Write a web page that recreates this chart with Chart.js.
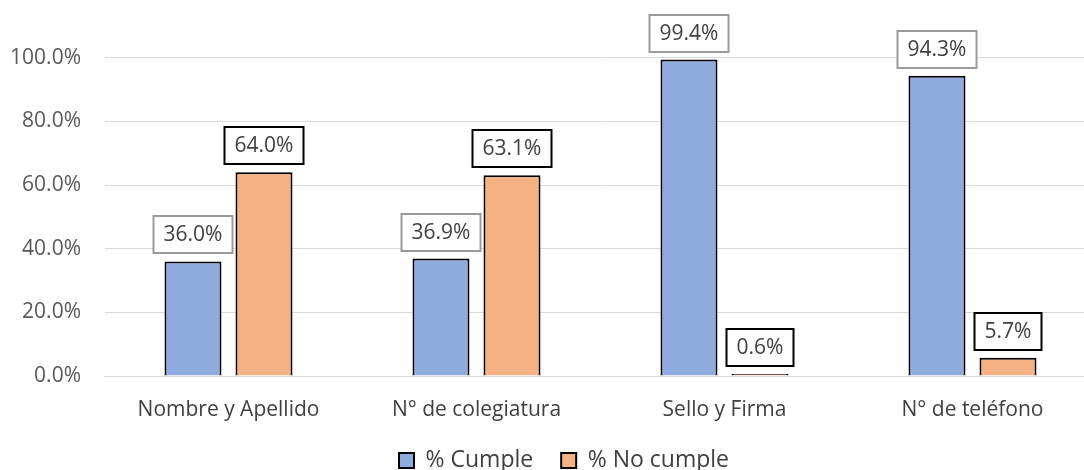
<!DOCTYPE html>
<html>
<head>
<meta charset="utf-8">
<script src="https://cdn.jsdelivr.net/npm/chart.js@4/dist/chart.umd.min.js"></script>
<style>
  html, body { margin: 0; padding: 0; background: #ffffff; overflow: hidden; }
  #wrap { width: 1084px; height: 470px; overflow: hidden; position: relative; }
  #c { position: absolute; left: 0; top: 0; }
</style>
</head>
<body>
<div id="wrap"><canvas id="c" width="1100" height="482"></canvas></div>
<script>
const categories = ['Nombre y Apellido', 'N° de colegiatura', 'Sello y Firma', 'N° de teléfono'];
const cumple = [0.360, 0.369, 0.994, 0.943];
const noCumple = [0.640, 0.631, 0.006, 0.057];
const yTicks = [0, 0.2, 0.4, 0.6, 0.8, 1.0];

const FONT = '"Open Sans", "Noto Sans", sans-serif';
const TEXT_SIZE = 21;

// Boxed value labels above every bar
const boxedLabels = {
  id: 'boxedLabels',
  afterDatasetsDraw(chart) {
    const ctx = chart.ctx;
    ctx.save();
    ctx.font = TEXT_SIZE + 'px ' + FONT;
    ctx.textAlign = 'center';
    ctx.textBaseline = 'middle';
    chart.data.datasets.forEach((ds, di) => {
      const meta = chart.getDatasetMeta(di);
      meta.data.forEach((bar, i) => {
        const txt = (ds.data[i] * 100).toFixed(1) + '%';
        const w = Math.round(ctx.measureText(txt).width + 20);
        const h = 37;
        const cx = Math.round(bar.x);
        const bottom = Math.round(bar.y - 8);
        const top = bottom - h;
        ctx.fillStyle = '#ffffff';
        ctx.fillRect(cx - w / 2, top, w, h);
        ctx.lineWidth = 2;
        ctx.strokeStyle = ds.labelBorder;
        ctx.strokeRect(cx - w / 2, top, w, h);
        ctx.fillStyle = '#404040';
        ctx.fillText(txt, cx, top + h / 2 + 1);
      });
    });
    ctx.restore();
  }
};

// Legend sits a little left of the canvas centre
const legendShift = {
  id: 'legendShift',
  afterLayout(chart) {
    const lg = chart.legend;
    if (!lg) return;
    const dx = 564 - (lg.left + lg.right) / 2;
    lg.left += dx;
    lg.right += dx;
  }
};

new Chart(document.getElementById('c'), {
  type: 'bar',
  data: {
    labels: categories,
    datasets: [
      {
        label: '% Cumple',
        data: cumple,
        backgroundColor: '#8faadc',
        borderColor: '#000000',
        borderWidth: 2,
        labelBorder: '#9a9a9a',
        categoryPercentage: 0.5726,
        barPercentage: 0.803
      },
      {
        label: '% No cumple',
        data: noCumple,
        backgroundColor: '#f4b183',
        borderColor: '#000000',
        borderWidth: 2,
        labelBorder: '#000000',
        categoryPercentage: 0.5726,
        barPercentage: 0.803
      }
    ]
  },
  options: {
    responsive: false,
    animation: false,
    layout: { padding: { top: 57.7, right: 3.5, left: 0, bottom: 0 } },
    plugins: {
      legend: {
        position: 'bottom',
        labels: {
          font: { family: FONT, size: 23 },
          color: '#404040',
          boxWidth: 15,
          boxHeight: 15,
          padding: 28
        }
      },
      tooltip: { enabled: false }
    },
    scales: {
      x: {
        grid: { display: false },
        border: { display: true, color: '#d9d9d9', width: 1 },
        ticks: {
          font: { family: FONT, size: TEXT_SIZE },
          color: '#404040',
          padding: 13
        },
        afterFit(s) { s.height = 45; }
      },
      y: {
        min: 0,
        max: 1,
        afterBuildTicks(s) { s.ticks = yTicks.map(v => ({ value: v })); },
        grid: { color: '#d9d9d9', lineWidth: 1, drawTicks: false },
        border: { display: false },
        ticks: {
          font: { family: FONT, size: TEXT_SIZE },
          color: '#595959',
          padding: 23.5,
          callback: v => (v * 100).toFixed(1) + '%'
        },
        afterFit(s) { s.width = 104.5; }
      }
    }
  },
  plugins: [boxedLabels, legendShift]
});
</script>
</body>
</html>
